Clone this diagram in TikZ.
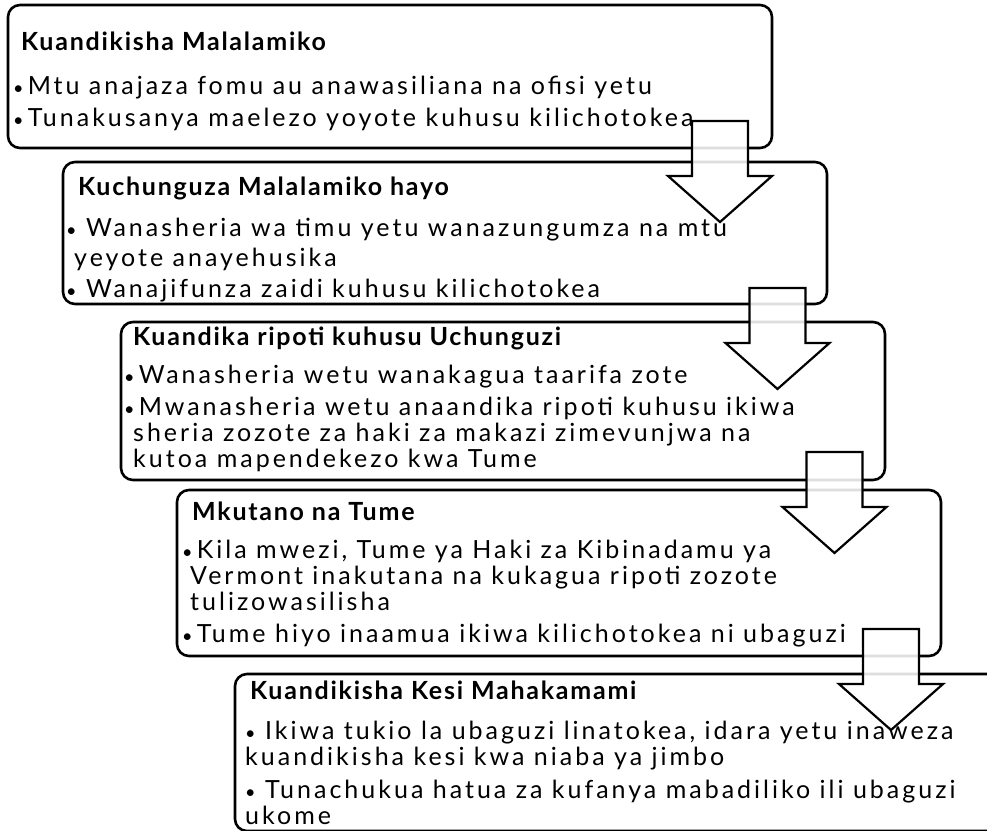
\documentclass[tikz,border=0pt]{standalone}
\usepackage{fontspec}
\setmainfont{Lato}[LetterSpace=12,BoldFeatures={LetterSpace=7}]
\newcommand\bul{{\fontsize{18}{18}\selectfont•}}
\tikzset{
  stepbox/.style={draw,line width=2.6pt,rounded corners=12pt,anchor=north west,
    inner sep=0pt,outer sep=0pt,minimum width=764pt},
  steptext/.style={anchor=north west,inner sep=0pt,align=left,
    font=\fontsize{25}{26}\selectfont},
  blockarrow/.style={draw,line width=2.2pt,fill=white,fill opacity=0.87,line join=miter}
}
\begin{document}
\begin{tikzpicture}[x=1pt,y=-1pt]
\useasboundingbox (0,0) rectangle (987,830);
\clip (0,0) rectangle (987,830);
% the five boxes
\draw (8,5) node[stepbox,minimum height=143pt](one) {};
\draw (63,162) node[stepbox,minimum height=142pt](two) {};
\draw (121,322) node[stepbox,minimum height=158pt](three) {};
\draw (177,490) node[stepbox,minimum height=166pt](four) {};
\draw (235,674) node[stepbox,minimum height=157pt](five) {};
% texts
\draw (13,32) node[steptext](onetext) {\hspace*{8pt}\textbf{Kuandikisha Malalamiko}\\[18pt]
  \bul\,Mtu anajaza fomu au anawasiliana na ofisi yetu\\[6pt]
  \bul\,Tunakusanya maelezo yoyote kuhusu kilichotokea};
\draw (66,177) node[steptext](twotext) {\hspace*{12pt}\textbf{Kuchunguza Malalamiko hayo}\\[15pt]
  \bul\ Wanasheria wa timu yetu wanazungumza na mtu\\[4pt]
  \hspace*{8pt}yeyote anayehusika\\[5pt]
  \bul\ Wanajifunza zaidi kuhusu kilichotokea};
\draw (124,327) node[steptext](threetext) {\hspace*{9pt}\textbf{Kuandika ripoti kuhusu Uchunguzi}\\[12pt]
  \bul\,Wanasheria wetu wanakagua taarifa zote\\[6pt]
  \bul\,Mwanasheria wetu anaandika ripoti kuhusu ikiwa\\
  \hspace*{9pt}sheria zozote za haki za makazi zimevunjwa na\\
  \hspace*{9pt}kutoa mapendekezo kwa Tume};
\draw (182,502) node[steptext](fourtext) {\hspace*{10pt}\textbf{Mkutano na Tume}\\[12pt]
  \bul\,Kila mwezi, Tume ya Haki za Kibinadamu ya\\
  \hspace*{8pt}Vermont inakutana na kukagua ripoti zozote\\
  \hspace*{8pt}tulizowasilisha\\[6pt]
  \bul\,Tume hiyo inaamua ikiwa kilichotokea ni ubaguzi};
\draw (245,681) node[steptext](fivetext) {\hspace*{5pt}\textbf{Kuandikisha Kesi Mahakamami}\\[14pt]
  \bul\ Ikiwa tukio la ubaguzi linatokea, idara yetu inaweza\\
  kuandikisha kesi kwa niaba ya jimbo\\[7pt]
  \bul\ Tunachukua hatua za kufanya mabadiliko ili ubaguzi\\
  ukome};
% arrows between the boxes
\foreach \cx/\ty in {720/121, 777.5/288, 834.5/452, 891/629}
  \draw[blockarrow] (\cx-28,\ty) -- (\cx+28,\ty) -- (\cx+28,\ty+55) -- (\cx+52,\ty+55)
    -- (\cx,\ty+101) -- (\cx-52,\ty+55) -- (\cx-28,\ty+55) -- cycle;
\end{tikzpicture}
\end{document}
